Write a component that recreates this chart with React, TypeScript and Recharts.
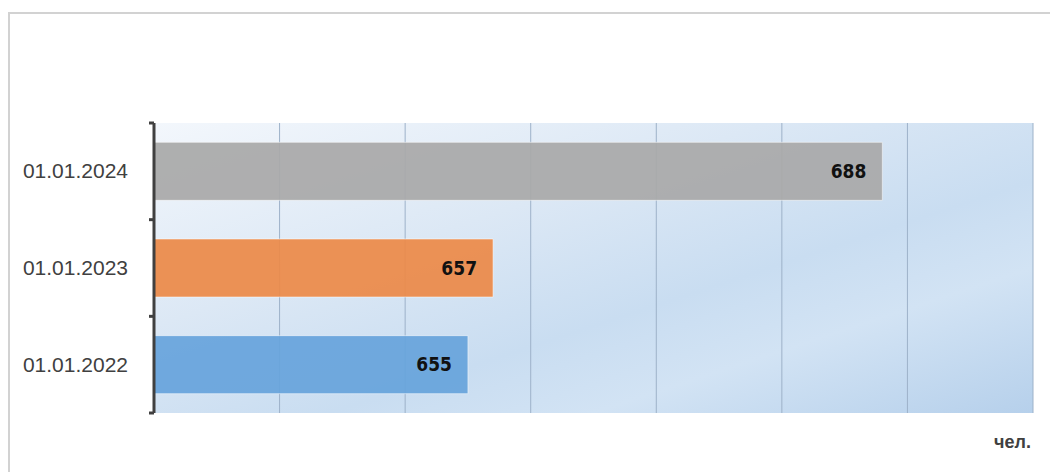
import { BarChart, Bar, XAxis, YAxis, CartesianGrid, LabelList, Cell } from 'recharts';

// categories top to bottom, as in the picture
const dates = ['01.01.2024', '01.01.2023', '01.01.2022'];
const people = [688, 657, 655];
const barColors = ['#A9A9A9', '#EC8A48', '#67A4DC'];
const xTicks = [630, 640, 650, 660, 670, 680, 690, 700];
const unitLabel = 'чел.';

const data = dates.map((date, i) => ({ date, value: people[i] }));

const PLOT_TOP = 123;
const PLOT_BOTTOM = 413;
const BAND = (PLOT_BOTTOM - PLOT_TOP) / dates.length;

// category label + the little bracket ticks between categories
function DateTick(props: any) {
  const { x, y, payload, index } = props;
  const half = BAND / 2;
  return (
    <g>
      <text
        x={x - 26}
        y={y}
        dy={7}
        textAnchor="end"
        fill="#404040"
        fontSize={21}
        fontFamily="'Liberation Sans', Arial, sans-serif"
      >
        {payload.value}
      </text>
      {index === 0 && (
        <line x1={x - 5} x2={x} y1={y - half} y2={y - half} stroke="#404040" strokeWidth={3} />
      )}
      <line x1={x - 5} x2={x} y1={y + half} y2={y + half} stroke="#404040" strokeWidth={3} />
    </g>
  );
}

export default function App() {
  return (
    <div
      style={{
        position: 'absolute',
        left: 0,
        top: 0,
        width: 1050,
        height: 472,
        overflow: 'hidden',
        background: '#fff',
        fontFamily: "'Liberation Sans', Arial, sans-serif",
      }}
    >
      <div
        style={{
          position: 'absolute',
          left: 8,
          top: 12,
          width: 1050,
          height: 480,
          borderTop: '2px solid #d2d2d2',
          borderLeft: '2px solid #d2d2d2',
        }}
      />
      <div style={{ position: 'absolute', left: 0, top: 0 }}>
        <BarChart
          width={1050}
          height={472}
          data={data}
          layout="vertical"
          margin={{ top: PLOT_TOP, right: 17, bottom: 472 - PLOT_BOTTOM, left: 0 }}
          barCategoryGap="20%"
        >
          <defs>
            <linearGradient id="plotBg" x1="0" y1="0" x2="1" y2="1">
              <stop offset="0%" stopColor="#F3F7FC" />
              <stop offset="35%" stopColor="#DCE8F5" />
              <stop offset="60%" stopColor="#C9DDF1" />
              <stop offset="75%" stopColor="#D2E3F4" />
              <stop offset="100%" stopColor="#B6D0EB" />
            </linearGradient>
          </defs>
          <CartesianGrid
            horizontal={false}
            stroke="#9DB2C9"
            strokeWidth={1}
            fill="url(#plotBg)"
            fillOpacity={1}
          />
          <XAxis type="number" domain={[630, 700]} ticks={xTicks} hide allowDataOverflow />
          <YAxis
            type="category"
            dataKey="date"
            width={154}
            tickSize={0}
            tickMargin={0}
            tickLine={false}
            axisLine={{ stroke: '#404040', strokeWidth: 3 }}
            tick={<DateTick />}
            interval={0}
          />
          <Bar dataKey="value" isAnimationActive={false} stroke="#ffffff" strokeOpacity={0.5} fillOpacity={0.93}>
            {data.map((d, i) => (
              <Cell key={d.date} fill={barColors[i]} />
            ))}
            <LabelList
              dataKey="value"
              position="insideRight"
              offset={16}
              fill="#111"
              fontSize={19}
              fontWeight="bold"
              fontFamily="'DejaVu Sans Condensed', 'DejaVu Sans', sans-serif"
              style={{ fontStretch: 'condensed' }}
            />
          </Bar>
        </BarChart>
      </div>
      <div
        style={{
          position: 'absolute',
          right: 19,
          top: 433,
          fontSize: 18,
          fontWeight: 'bold',
          color: '#404040',
          lineHeight: 1,
        }}
      >
        {unitLabel}
      </div>
    </div>
  );
}
